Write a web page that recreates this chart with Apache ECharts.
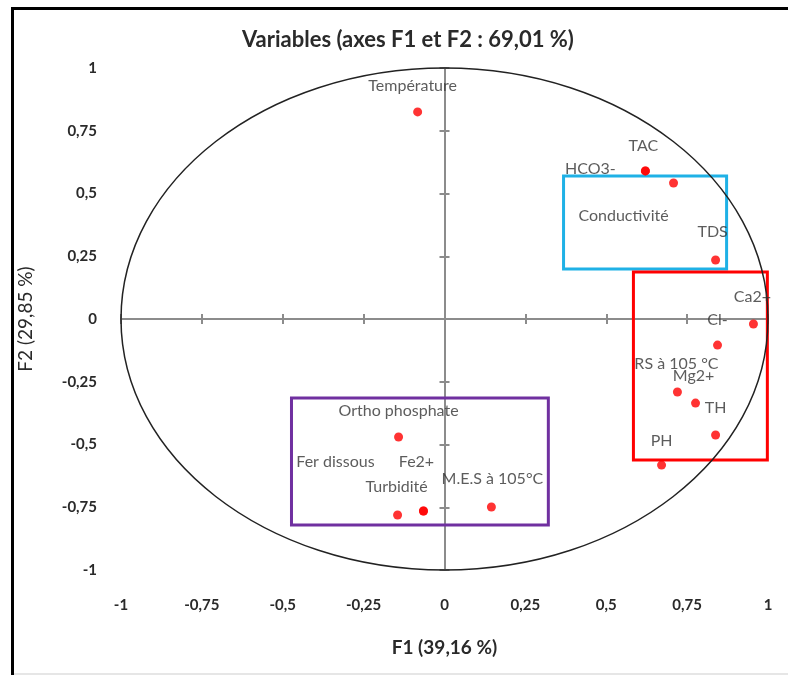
<!DOCTYPE html>
<html>
<head>
<meta charset="UTF-8">
<title>Variables F1 F2</title>
<script src="https://cdn.jsdelivr.net/npm/echarts@6/dist/echarts.min.js"></script>
<style>
  html, body { margin: 0; padding: 0; background: #fff; }
  #main { width: 788px; height: 675px; }
</style>
</head>
<body>
<div id="main"></div>
<script type="text/javascript">
    // variables du cercle des corrélations
    var names = ['Température', 'TAC', 'HCO3-', 'Conductivité', 'TDS', 'Ca2+', 'Cl-',
        'RS à 105 °C', 'Mg2+', 'TH', 'PH', 'Ortho phosphate', 'Turbidité', 'Fe2+',
        'Fer dissous', 'M.E.S à 105°C'];
    var f1 = [-0.083, 0.621, 0.621, 0.708, 0.838, 0.955, 0.844,
        0.720, 0.776, 0.838, 0.671, -0.142, -0.145, -0.065,
        -0.065, 0.145];
    var f2 = [0.825, 0.590, 0.590, 0.542, 0.235, -0.020, -0.104,
        -0.291, -0.335, -0.462, -0.582, -0.470, -0.781, -0.765,
        -0.765, -0.749];

    var axisTicks = [-1, -0.75, -0.5, -0.25, 0, 0.25, 0.5, 0.75, 1];
    var circleCenter = [0, 0];
    var circleRadius = 1;

    // encadrés : [x1, y1, x2, y2]
    var boxBlue = [0.368, 0.570, 0.872, 0.199];
    var boxRed = [0.584, 0.187, 0.998, -0.562];
    var boxPurple = [-0.473, -0.315, 0.321, -0.821];

    // décalage des étiquettes (px, centre texte - centre point)
    var labelShift = {
        'Température': [-5, -26], 'TAC': [-2, -25], 'HCO3-': [-55, -2],
        'Conductivité': [-50, 33], 'TDS': [-3, -28], 'Ca2+': [-1, -27],
        'Cl-': [0, -25], 'RS à 105 °C': [-1, -28], 'Mg2+': [-2, -27],
        'TH': [0, -27], 'PH': [0, -24], 'Ortho phosphate': [0, -26],
        'Turbidité': [-1, -28], 'Fe2+': [-7, -49], 'Fer dissous': [-88, -49],
        'M.E.S à 105°C': [1, -28]
    };

    var fontFam = 'Lato, "Open Sans", sans-serif';

    function fmt(v) { return String(v).replace('.', ','); }

    var points = names.map(function (n, i) {
        return {
            name: n,
            value: [f1[i], f2[i]],
            label: { offset: labelShift[n] }
        };
    });

    function areaOf(b, col) {
        return [{ coord: [b[0], b[1]], itemStyle: { borderColor: col } }, { coord: [b[2], b[3]] }];
    }

    function valAxis(extra) {
        var base = {
            type: 'value', min: axisTicks[0], max: axisTicks[axisTicks.length - 1],
            interval: 0.25, splitLine: { show: false }
        };
        for (var k in extra) base[k] = extra[k];
        return base;
    }

    var lineCol = '#8c8c8c';
    var tickLbl = { formatter: fmt, color: '#2a2a2a', fontSize: 15, fontWeight: 'bold', fontFamily: fontFam };

    var myChart = echarts.init(document.getElementById('main'));
    myChart.setOption({
        backgroundColor: '#fff',
        title: {
            text: 'Variables (axes F1 et F2 : 69,01 %)',
            left: 237, top: 24,
            textStyle: { fontFamily: fontFam, fontSize: 22, fontWeight: 'bold', color: '#2a2a2a' }
        },
        grid: { left: 121, right: 20, top: 68, bottom: 105 },
        xAxis: [
            valAxis({
                position: 'bottom',
                axisLine: { show: false, onZero: false },
                axisTick: { show: false },
                axisLabel: Object.assign({ margin: 28 }, tickLbl),
                name: 'F1 (39,16 %)', nameLocation: 'middle', nameGap: 68,
                nameTextStyle: { fontFamily: fontFam, fontSize: 19, fontWeight: 'bold', color: '#2a2a2a' }
            }),
            valAxis({
                axisLine: { show: true, onZero: true, lineStyle: { color: lineCol, width: 2 } },
                axisTick: { show: true, inside: false, length: 5, lineStyle: { color: lineCol, width: 2 } },
                axisLabel: { show: false }
            }),
            valAxis({
                axisLine: { show: false, onZero: true },
                axisTick: { show: true, inside: true, length: 5, lineStyle: { color: lineCol, width: 2 } },
                axisLabel: { show: false }
            })
        ],
        yAxis: [
            valAxis({
                position: 'left',
                axisLine: { show: false, onZero: false },
                axisTick: { show: false },
                axisLabel: Object.assign({ margin: 24 }, tickLbl),
                name: 'F2 (29,85 %)', nameLocation: 'middle', nameGap: 86, nameRotate: 90,
                nameTextStyle: { fontFamily: fontFam, fontSize: 19, color: '#2a2a2a' }
            }),
            valAxis({
                axisLine: { show: true, onZero: true, lineStyle: { color: lineCol, width: 2 } },
                axisTick: { show: true, inside: false, length: 5, lineStyle: { color: lineCol, width: 2 } },
                axisLabel: { show: false }
            }),
            valAxis({
                axisLine: { show: false, onZero: true },
                axisTick: { show: true, inside: true, length: 5, lineStyle: { color: lineCol, width: 2 } },
                axisLabel: { show: false }
            })
        ],
        graphic: [
            { type: 'rect', shape: { x: 11, y: 7, width: 777, height: 3 }, style: { fill: '#000' } },
            { type: 'rect', shape: { x: 11, y: 7, width: 3, height: 668 }, style: { fill: '#000' } },
            { type: 'rect', shape: { x: 14, y: 673, width: 774, height: 2 }, style: { fill: '#e6e6e6' } }
        ],
        series: [
            {
                type: 'custom',
                silent: true,
                data: [circleCenter],
                z: 1,
                renderItem: function (params, api) {
                    var c = api.coord(circleCenter);
                    var s = api.size([circleRadius, circleRadius]);
                    return {
                        type: 'ellipse',
                        shape: { cx: c[0], cy: c[1], rx: s[0], ry: s[1] },
                        style: { fill: 'none', stroke: '#222', lineWidth: 1.5 }
                    };
                }
            },
            {
                type: 'scatter',
                symbolSize: 9,
                z: 3,
                itemStyle: { color: '#ff0000' },
                label: {
                    show: true, position: 'inside',
                    formatter: '{b}',
                    color: '#333', fontSize: 16, fontFamily: fontFam
                },
                data: points,
                markArea: {
                    silent: true,
                    itemStyle: { color: 'rgba(0,0,0,0)', borderWidth: 3 },
                    label: { show: false },
                    data: [
                        areaOf(boxBlue, '#1fb1e6'),
                        areaOf(boxRed, '#ff0000'),
                        areaOf(boxPurple, '#7030a0')
                    ]
                }
            }
        ]
    });
</script>
</body>
</html>
